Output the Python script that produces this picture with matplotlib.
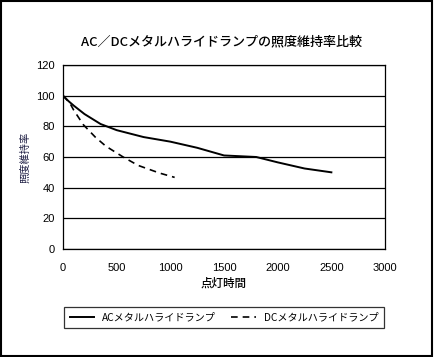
import matplotlib.pyplot as plt
from matplotlib.patches import Rectangle

plt.rcParams['font.family'] = ['Noto Sans CJK JP', 'DejaVu Sans']

# AC lamp
ac_hours = [0, 50, 100, 200, 350, 500, 750, 1000, 1250, 1500, 1650, 1800, 2000, 2250, 2500]
ac_values = [100, 96.5, 93.5, 88, 81.5, 77.5, 73, 70, 66, 61, 60.5, 60, 56.5, 52.5, 50]
# DC lamp
dc_hours = [0, 65, 100, 190, 300, 400, 560, 700, 800, 900, 1000, 1040]
dc_values = [100, 95, 90.5, 81, 73, 67, 60, 54.5, 52, 49.5, 47.5, 46.7]

fig = plt.figure(figsize=(4.34, 3.57), dpi=100)
ax = fig.add_axes([0.1452, 0.3025, 0.742, 0.5155])

ax.plot(ac_hours, ac_values, color='black', lw=1.4, label='ACメタルハライドランプ')
ax.plot(dc_hours, dc_values, color='black', lw=1.2, ls=(0, (4, 3)), label='DCメタルハライドランプ')

ax.set_xlim(0, 3000)
ax.set_ylim(0, 120)
ax.set_xticks(range(0, 3001, 500))
ax.set_yticks(range(0, 121, 20))
ax.grid(axis='y', color='black', lw=0.9)
ax.tick_params(length=0, labelsize=8, labelfontfamily='Liberation Sans')
ax.tick_params(axis='y', pad=6)
ax.tick_params(axis='x', pad=10)
for s in ax.spines.values():
    s.set_linewidth(0.9)

ax.set_xlabel('点灯時間', fontsize=8.3, labelpad=3, fontweight='medium')
ax.set_ylabel('照度維持率', fontsize=7.4, color='#1a1a40', labelpad=4)
fig.text(0.51, 0.882, 'AC／DCメタルハライドランプの照度維持率比較', ha='center', va='center',
         fontsize=9.4, fontweight='medium')

leg = ax.legend(loc='center', bbox_to_anchor=(0.5, -0.37), ncol=2, fontsize=7.3,
                frameon=True, fancybox=False, edgecolor='black', handlelength=2.4,
                columnspacing=1.5, borderpad=0.55, handletextpad=0.8)
leg.get_frame().set_linewidth(0.9)

fig.patches.append(Rectangle((0.002, 0.004), 0.994, 0.992, transform=fig.transFigure,
                             fill=False, edgecolor='black', lw=1.5))

fig.savefig('out.png', dpi=100)
